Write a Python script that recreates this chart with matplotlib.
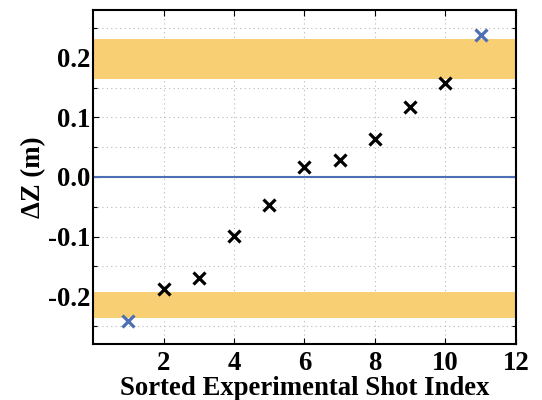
import matplotlib
matplotlib.use("Agg")
import matplotlib.pyplot as plt
import numpy as np
from matplotlib.ticker import MultipleLocator, FormatStrFormatter

# Sorted shots: deviation in Z (m)
shot_index = [1, 2, 3, 4, 5, 6, 7, 8, 9, 10, 11]
delta_z = [-0.242, -0.187, -0.169, -0.099, -0.047, 0.016, 0.029, 0.064, 0.118, 0.157, 0.238]
outlier_index = [1, 11]

# Shaded bands (lower, upper)
upper_band = (0.165, 0.232)
lower_band = (-0.236, -0.193)

plt.rcParams["font.family"] = ["Liberation Serif", "DejaVu Serif"]
plt.rcParams["font.weight"] = "bold"

fig = plt.figure(figsize=(5.42, 4.0), dpi=100)
ax = fig.add_axes([0.1716, 0.14, 0.7804, 0.835])

band_color = "#f9cf73"
ax.axhspan(*upper_band, color=band_color, lw=0, zorder=1)
ax.axhspan(*lower_band, color=band_color, lw=0, zorder=1)
ax.axhline(0.0, color="#4c6fb5", lw=1.5, zorder=2)

x = np.array(shot_index)
y = np.array(delta_z)
is_out = np.isin(x, outlier_index)
ax.plot(x[~is_out], y[~is_out], "x", color="black", ms=9, mew=2.3, zorder=4)
ax.plot(x[is_out], y[is_out], "x", color="#4c6fb5", ms=9, mew=2.3, zorder=4)

ax.set_xlim(0, 12)
ax.set_ylim(-0.28, 0.28)
ax.yaxis.set_major_locator(MultipleLocator(0.1))
ax.yaxis.set_minor_locator(MultipleLocator(0.05))
ax.yaxis.set_major_formatter(FormatStrFormatter("%.1f"))
ax.set_xticks([2, 4, 6, 8, 10, 12])

ax.grid(True, which="both", axis="both", color="#b8b8b8", linestyle=(0, (1, 3)), lw=0.8, zorder=0)
ax.set_axisbelow(True)
ax.tick_params(which="both", direction="in", top=True, right=True, labelsize=19.3)
ax.tick_params(axis="x", pad=5)
ax.tick_params(axis="y", pad=2)
ax.tick_params(which="major", length=4, width=0.8)
ax.tick_params(which="minor", length=3, width=0.8)
for s in ax.spines.values():
    s.set_linewidth(1.5)

ax.set_xlabel("Sorted Experimental Shot Index", fontsize=19.3, fontweight="bold", labelpad=0)
ax.set_ylabel("ΔZ (m)", fontsize=19.3, fontweight="bold", labelpad=1)

fig.savefig("out.png", dpi=100)
